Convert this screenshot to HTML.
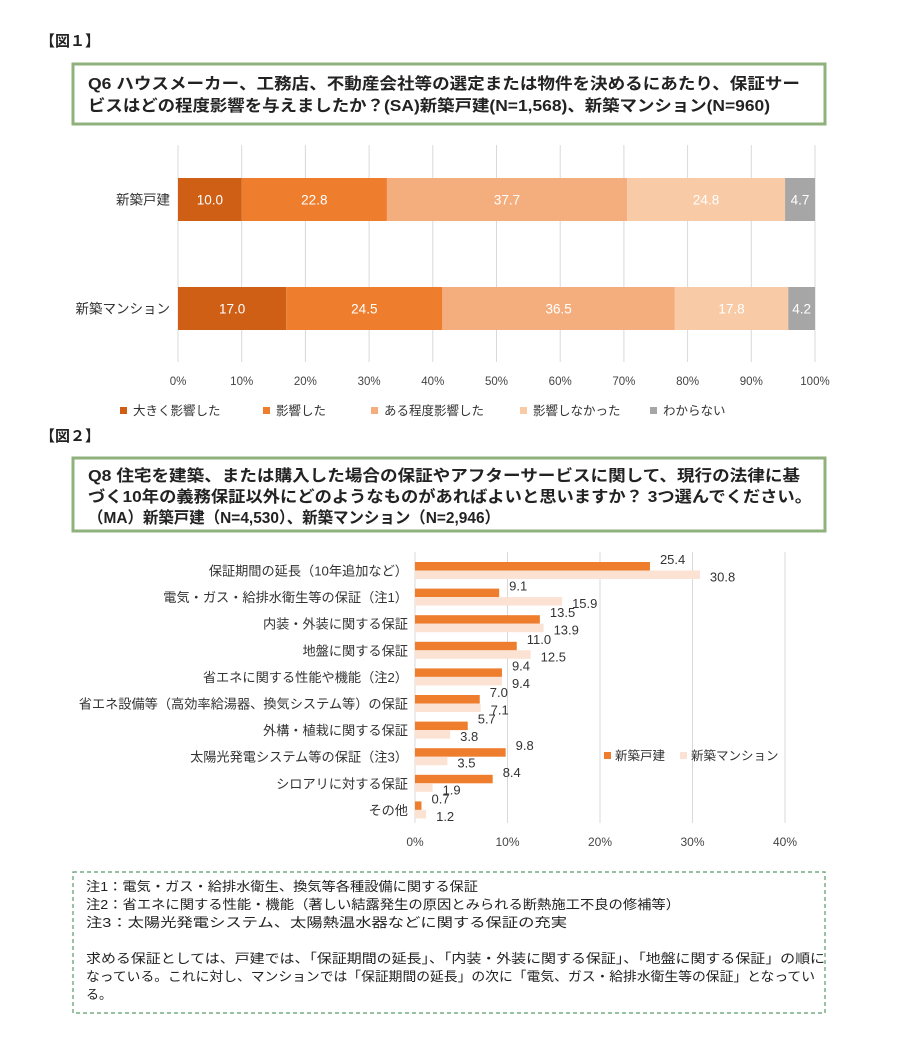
<!DOCTYPE html>
<html><head><meta charset="utf-8"><style>
body{margin:0;background:#fff;width:900px;height:1033px;overflow:hidden;font-family:"Liberation Sans","Noto Sans CJK JP",sans-serif;}
svg text{font-family:"Liberation Sans","Noto Sans CJK JP",sans-serif;}
</style></head><body>
<svg id="c" width="900" height="1033" xmlns="http://www.w3.org/2000/svg">
<text x="40" y="46" font-size="15" font-weight="bold" fill="#222">【図１】</text>
<rect x="73" y="64" width="752" height="60" fill="#fff" stroke="#8fb17c" stroke-width="3"/>
<text x="88" y="89" font-size="16" font-weight="bold" fill="#222" textLength="712" lengthAdjust="spacingAndGlyphs">Q6  ハウスメーカー、工務店、不動産会社等の選定または物件を決めるにあたり、保証サー</text>
<text x="88" y="111" font-size="16" font-weight="bold" fill="#222" textLength="682" lengthAdjust="spacingAndGlyphs">ビスはどの程度影響を与えましたか？(SA)新築戸建(N=1,568)、新築マンション(N=960)</text>
<g id="ch1"></g>
<text x="40" y="441" font-size="15" font-weight="bold" fill="#222">【図２】</text>
<rect x="73" y="458" width="752" height="73" fill="#fff" stroke="#8fb17c" stroke-width="3"/>
<text x="88" y="481" font-size="16" font-weight="bold" fill="#222" textLength="712" lengthAdjust="spacingAndGlyphs">Q8  住宅を建築、または購入した場合の保証やアフターサービスに関して、現行の法律に基</text>
<text x="88" y="502" font-size="16" font-weight="bold" fill="#222" textLength="724" lengthAdjust="spacingAndGlyphs">づく10年の義務保証以外にどのようなものがあればよいと思いますか？  3つ選んでください。</text>
<text x="88" y="523" font-size="16" font-weight="bold" fill="#222" textLength="412" lengthAdjust="spacingAndGlyphs">（MA）新築戸建（N=4,530）、新築マンション（N=2,946）</text>
<g id="ch2"></g>
<rect x="73" y="872" width="752" height="141" fill="#fff" stroke="#5a9a6a" stroke-width="1.2" stroke-dasharray="4,3"/>
<g font-size="13" fill="#222">
<text x="86" y="891" textLength="392" lengthAdjust="spacingAndGlyphs">注1：電気・ガス・給排水衛生、換気等各種設備に関する保証</text>
<text x="86" y="909" textLength="594" lengthAdjust="spacingAndGlyphs">注2：省エネに関する性能・機能（著しい結露発生の原因とみられる断熱施工不良の修補等）</text>
<text x="86" y="927" textLength="481" lengthAdjust="spacingAndGlyphs">注3：太陽光発電システム、太陽熱温水器などに関する保証の充実</text>
<text x="86" y="963" textLength="739" lengthAdjust="spacingAndGlyphs">求める保証としては、戸建では、「保証期間の延長」、「内装・外装に関する保証」、「地盤に関する保証」の順に</text>
<text x="86" y="981" textLength="729" lengthAdjust="spacingAndGlyphs">なっている。これに対し、マンションでは「保証期間の延長」の次に「電気、ガス・給排水衛生等の保証」となってい</text>
<text x="86" y="999">る。</text>
</g>
</svg>
<script>
// Chart 1 data
const c1Categories = ["新築戸建", "新築マンション"];
const c1SeriesNames = ["大きく影響した", "影響した", "ある程度影響した", "影響しなかった", "わからない"];
const c1Values = [[10.0, 22.8, 37.7, 24.8, 4.7], [17.0, 24.5, 36.5, 17.8, 4.2]];
const c1Ticks = [0,10,20,30,40,50,60,70,80,90,100];
// Chart 2 data
const c2Categories = ["保証期間の延長（10年追加など）","電気・ガス・給排水衛生等の保証（注1）","内装・外装に関する保証","地盤に関する保証","省エネに関する性能や機能（注2）","省エネ設備等（高効率給湯器、換気システム等）の保証","外構・植栽に関する保証","太陽光発電システム等の保証（注3）","シロアリに対する保証","その他"];
const c2House = [25.4, 9.1, 13.5, 11.0, 9.4, 7.0, 5.7, 9.8, 8.4, 0.7];
const c2Mansion = [30.8, 15.9, 13.9, 12.5, 9.4, 7.1, 3.8, 3.5, 1.9, 1.2];
const c2Ticks = [0,10,20,30,40];

const NS="http://www.w3.org/2000/svg";
function mk(parent,tag,attrs,txt){const e=document.createElementNS(NS,tag);for(const k in attrs)e.setAttribute(k,attrs[k]);if(txt!==undefined)e.textContent=txt;parent.appendChild(e);return e;}

// Chart 1
const g1=document.getElementById('ch1');
const x1=v=>178+v*6.37;
const c1Colors=["#d05f16","#ee7d2e","#f4ae7e","#f8cba6","#a6a6a6"];
const c1RowY=[178,287], c1H=43;
c1Ticks.forEach(t=>{
  const l=mk(g1,'line',{x1:x1(t),x2:x1(t),y1:145,y2:362,stroke:'#d9d9d9','stroke-width':1});
  
  
  const tx=mk(g1,'text',{x:x1(t),y:385,'font-size':11.5,fill:'#444','text-anchor':'middle'},t+'%');
  
  
});
c1Categories.forEach((cat,i)=>{
  const y=c1RowY[i];
  const lb=mk(g1,'text',{x:170,y:y+c1H/2+5,'font-size':13.5,fill:'#333','text-anchor':'end'},cat);
  
  
  let acc=0;
  c1Values[i].forEach((v,j)=>{
    const r=mk(g1,'rect',{x:x1(acc),y:y,width:x1(acc+v)-x1(acc),height:c1H,fill:c1Colors[j]});
    
    
    const t=mk(g1,'text',{x:(x1(acc)+x1(acc+v))/2,y:y+c1H/2+5,'font-size':13.5,fill:'#fff','text-anchor':'middle'},v.toFixed(1));
    
    
    acc+=v;
  });
});
const lgX=[120,263,371,520,650];
c1SeriesNames.forEach((n,j)=>{
  const r=mk(g1,'rect',{x:lgX[j],y:407,width:7,height:7,fill:c1Colors[j]});
  
  
  const t=mk(g1,'text',{x:lgX[j]+13,y:415,'font-size':12.5,fill:'#333'},n);
  
  
});

// Chart 2
const g2=document.getElementById('ch2');
const x2=v=>415+v*9.25;
const rowStep=26.6, row0=562, bh=8.5;
c2Ticks.forEach(t=>{
  const l=mk(g2,'line',{x1:x2(t),x2:x2(t),y1:552,y2:823,stroke:'#d9d9d9','stroke-width':1});
  
  
  const tx=mk(g2,'text',{x:x2(t),y:846,'font-size':12,fill:'#444','text-anchor':'middle'},t+'%');
  
  
});
c2Categories.forEach((cat,i)=>{
  const y=row0+i*rowStep;
  const lb=mk(g2,'text',{x:408,y:y+bh+5,'font-size':13.2,fill:'#333','text-anchor':'end'},cat);
  
  
  const a=mk(g2,'rect',{x:x2(0),y:y,width:x2(c2House[i])-x2(0),height:bh,fill:'#ee7d2e'});
  
  
  const b=mk(g2,'rect',{x:x2(0),y:y+bh,width:x2(c2Mansion[i])-x2(0),height:bh,fill:'#fbe2d3'});
  
  
  const ta=mk(g2,'text',{x:x2(c2House[i])+10,y:y+2,'font-size':13,fill:'#333'},c2House[i].toFixed(1));
  
  
  const tb=mk(g2,'text',{x:x2(c2Mansion[i])+10,y:y+bh+11,'font-size':13,fill:'#333'},c2Mansion[i].toFixed(1));
  
  
});
const l1=mk(g2,'rect',{x:604,y:752,width:7,height:7,fill:'#ee7d2e'});


const l1t=mk(g2,'text',{x:615,y:760,'font-size':12.5,fill:'#333'},'新築戸建');


const l2=mk(g2,'rect',{x:680,y:752,width:7,height:7,fill:'#fbe2d3'});


const l2t=mk(g2,'text',{x:691,y:760,'font-size':12.5,fill:'#333'},'新築マンション');


</script>
</body></html>
